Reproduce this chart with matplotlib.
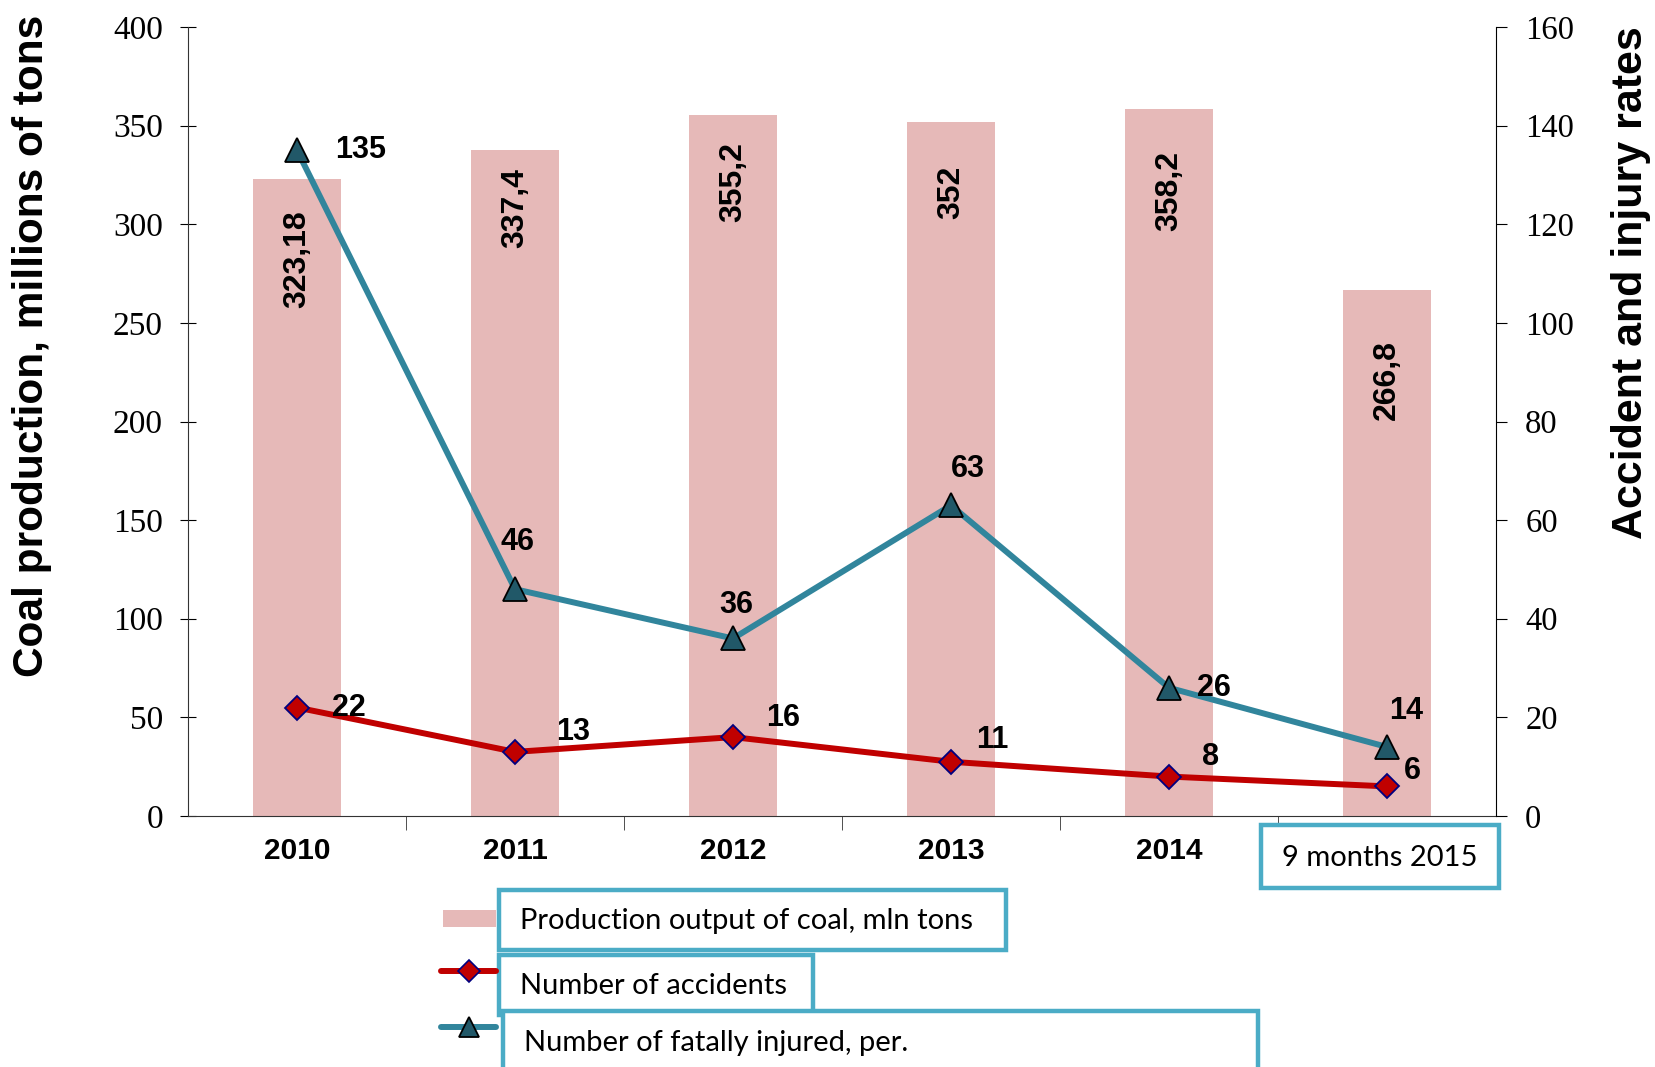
import matplotlib
matplotlib.use('Agg')
import matplotlib.pyplot as plt
from matplotlib.patches import Rectangle
from matplotlib.lines import Line2D

years = ['2010', '2011', '2012', '2013', '2014', '9 months 2015']
production = [323.18, 337.4, 355.2, 352, 358.2, 266.8]
production_lbl = ['323,18', '337,4', '355,2', '352', '358,2', '266,8']
accidents = [22, 13, 16, 11, 8, 6]
fatal = [135, 46, 36, 63, 26, 14]

W, H = 1655, 1067
BAR = '#E6B9B8'
RED = '#C00000'
TEAL = '#31859C'
BOX = '#4BACC6'
SANS = 'Liberation Sans'

fig = plt.figure(figsize=(W / 100, H / 100), dpi=100)
ax = fig.add_axes([188 / W, 1 - 816 / H, (1496 - 188) / W, (816 - 27) / H])
ax2 = ax.twinx()

x = list(range(len(years)))
ax.bar(x, production, width=0.4, color=BAR, zorder=1)
ax.set_xlim(-0.5, 5.5)
ax.set_ylim(0, 400)
ax.set_yticks(range(0, 401, 50))
ax2.set_ylim(0, 160)
ax2.set_yticks(range(0, 161, 20))

ax.spines['top'].set_visible(False)
ax2.spines['top'].set_visible(False)
ax.spines['right'].set_visible(False)
ax2.spines['left'].set_visible(False)
ax2.spines['bottom'].set_visible(False)
ax2.spines['right'].set_color('black')
ax.spines['left'].set_color('#333333')
ax.spines['bottom'].set_color('#333333')

ax.tick_params(axis='y', direction='inout', length=12, pad=12, labelsize=24)
ax2.tick_params(axis='y', direction='out', length=8, pad=13, labelsize=23.5)
for lab in ax.get_yticklabels() + ax2.get_yticklabels():
    lab.set_fontfamily('Liberation Serif')

# category ticks
ax.set_xticks(x)
ax.set_xticklabels(years[:-1] + [''], fontfamily=SANS, fontweight='bold', fontsize=21.5)
ax.tick_params(axis='x', length=0, pad=15)
ax.set_xticks([i + 0.5 for i in x[:-1]], minor=True)
ax.tick_params(axis='x', which='minor', direction='out', length=10, color='#333333')


def fbox(x0, y0, x1, y1):
    fig.add_artist(Rectangle((x0 / W, 1 - y1 / H), (x1 - x0) / W, (y1 - y0) / H,
                             transform=fig.transFigure, fc='white', ec=BOX, lw=3.2))


# last category label in its own box
fbox(1261, 825, 1499, 888)
fig.text(1380 / W, 1 - 858 / H, years[-1], ha='center', va='center', fontsize=21,
         fontfamily='Lato')

# bar value labels
bar_lbl_off = [23, 13, 19, 32, 30, 36]
for i, v in enumerate(production):
    ax.annotate(production_lbl[i], (i, v), xytext=(0, -bar_lbl_off[i]), textcoords='offset points',
                rotation=90, ha='center', va='top', fontsize=23, fontweight='bold',
                fontfamily=SANS, zorder=5)

ax2.plot(x, accidents, color=RED, lw=4.3, marker='D', ms=12, mfc=RED, mec='#000080',
         mew=1.3, zorder=3)
ax2.plot(x, fatal, color=TEAL, lw=4.3, marker='^', ms=17, mfc='#215868', mec='black',
         mew=1.3, zorder=3)

acc_off = [(37, 0), (42, 14), (36, 14), (30, 16), (30, 14), (18, 11)]
fat_off = [(46, 0), (2, 34), (2, 24), (12, 26), (32, 0), (14, 26)]
for i in x:
    ax2.annotate(str(accidents[i]), (i, accidents[i]), xytext=acc_off[i],
                 textcoords='offset points', ha='center', va='center', fontsize=22,
                 fontweight='bold', fontfamily=SANS, zorder=6)
    ax2.annotate(str(fatal[i]), (i, fatal[i]), xytext=fat_off[i],
                 textcoords='offset points', ha='center', va='center', fontsize=22,
                 fontweight='bold', fontfamily=SANS, zorder=6)

ax.set_ylabel('Coal production, millions of tons', fontsize=30.5, fontweight='bold',
              fontfamily=SANS)
ax.yaxis.set_label_coords(-(188 - 32) / (1496 - 188), 0.596)
ax2.set_ylabel('Accident and injury rates', fontsize=31, fontweight='bold',
               fontfamily=SANS, rotation=90)
ax2.yaxis.set_label_coords(1 + (1631 - 1496) / (1496 - 188), 0.676)
ax.yaxis.label.set_va('center')
ax2.yaxis.label.set_va('center')

# custom legend
fbox(499, 890, 1006, 950)
fbox(499, 955, 813, 1015)
fbox(503, 1011, 1258, 1075)
fig.add_artist(Rectangle((443 / W, 1 - 927 / H), 53 / W, 17 / H, transform=fig.transFigure,
                         fc=BAR, ec='none'))
fig.add_artist(Line2D([441 / W, 496 / W], [1 - 971 / H] * 2, transform=fig.transFigure,
                      color=RED, lw=4.3, solid_capstyle='round'))
fig.add_artist(Line2D([469 / W], [1 - 971 / H], transform=fig.transFigure, marker='D',
                      ms=11, mfc=RED, mec='#000080', mew=1.2))
fig.add_artist(Line2D([441 / W, 496 / W], [1 - 1027 / H] * 2, transform=fig.transFigure,
                      color=TEAL, lw=4.3, solid_capstyle='round'))
fig.add_artist(Line2D([469 / W], [1 - 1027 / H], transform=fig.transFigure, marker='^',
                      ms=15, mfc='#215868', mec='black', mew=1.3))
fig.text(520 / W, 1 - 921 / H, 'Production output of coal, mln tons', fontsize=21,
         fontfamily='Lato', va='center')
fig.text(520 / W, 1 - 986 / H, 'Number of accidents', fontsize=21, fontfamily='Lato', va='center')
fig.text(524 / W, 1 - 1043 / H, 'Number of fatally injured, per.', fontsize=21,
         fontfamily='Lato', va='center')

fig.savefig('out.png', dpi=100)
